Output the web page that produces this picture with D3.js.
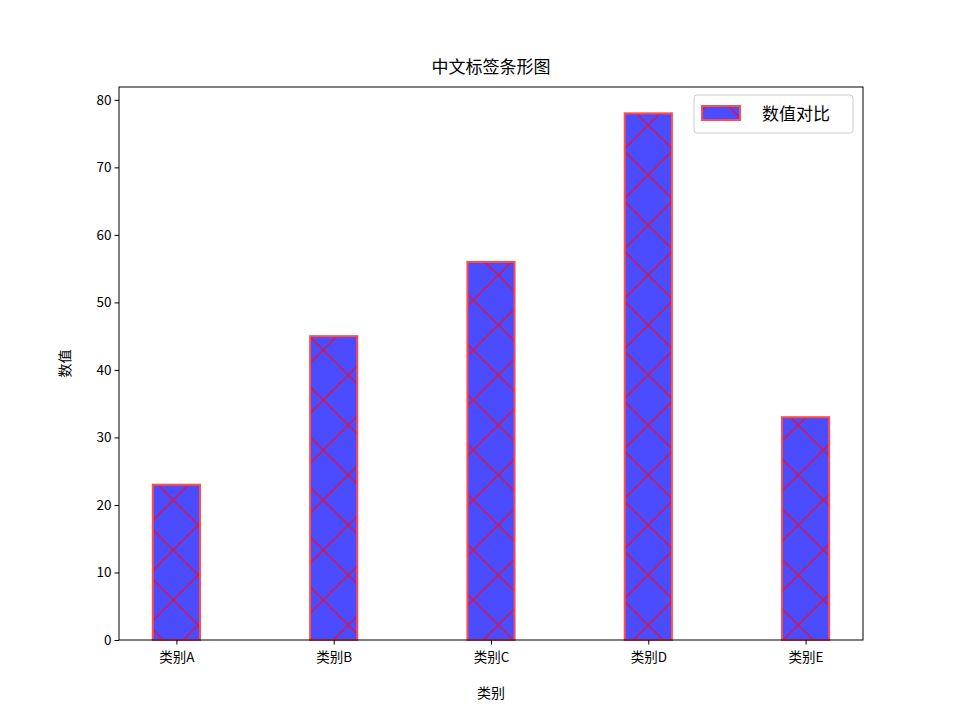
<!DOCTYPE html>
<html><head><meta charset="utf-8">
<script src="https://cdn.jsdelivr.net/npm/d3@7"></script>
<style>body{margin:0;background:#fff}text{font-family:"Noto Sans CJK SC","DejaVu Sans",sans-serif}</style>
</head><body><svg id="c" width="959" height="720"></svg>
<script>
const categories=["类别A","类别B","类别C","类别D","类别E"];
const values=[23,45,56,78,33];
const yTicks=[0,10,20,30,40,50,60,70,80];
const title="中文标签条形图", xLabel="类别", yLabel="数值", legendLabel="数值对比";

const svg=d3.select("#c");
const L=119,R=863,T=87,B=640;
const x=d3.scaleLinear().domain([-0.365,4.365]).range([L,R]);
const y=d3.scaleLinear().domain([0,81.9]).range([B,T]);
const bw=0.3;
const defs=svg.append("defs");
const p=defs.append("pattern").attr("id","h").attr("patternUnits","userSpaceOnUse")
 .attr("width",50).attr("height",50).attr("x",x(3)-25).attr("y",0);
p.append("rect").attr("width",50).attr("height",50).attr("fill","#4b4bff");
p.append("path").attr("d","M-5,-5L55,55M-5,55L55,-5").attr("stroke","#d4164c").attr("stroke-width",1.5);

svg.selectAll(".bar").data(values).join("rect")
 .attr("x",(d,i)=>x(i-bw/2)).attr("width",x(bw)-x(0))
 .attr("y",d=>y(d)).attr("height",d=>B-y(d))
 .attr("fill","url(#h)").attr("stroke","#ff4d4d").attr("stroke-width",2);

const g=svg.append("g");
const xa=g.append("g").attr("transform",`translate(0,${B})`)
 .call(d3.axisBottom(x).tickValues(d3.range(categories.length)).tickFormat(i=>categories[i]).tickSizeOuter(0).tickSize(4.5));
const ya=g.append("g").attr("transform",`translate(${L},0)`)
 .call(d3.axisLeft(y).tickValues(yTicks).tickSizeOuter(0).tickSize(4.5));
[xa,ya].forEach(a=>{a.select(".domain").remove();a.selectAll("text").attr("font-size",13.5).attr("fill","#000");a.selectAll("line").attr("stroke","#000");});
xa.selectAll("text").attr("dy","1.1em");
svg.append("rect").attr("x",L).attr("y",T).attr("width",R-L).attr("height",B-T).attr("fill","none").attr("stroke","#000").attr("stroke-width",1);

svg.append("text").attr("x",(L+R)/2).attr("y",73).attr("text-anchor","middle").attr("font-size",17).text(title);
svg.append("text").attr("x",(L+R)/2).attr("y",698).attr("text-anchor","middle").attr("font-size",14).text(xLabel);
svg.append("text").attr("transform",`translate(70,${(T+B)/2}) rotate(-90)`).attr("text-anchor","middle").attr("font-size",14).text(yLabel);

const lg=svg.append("g").attr("transform","translate(694,95)");
lg.append("rect").attr("width",159).attr("height",38).attr("rx",3).attr("fill","#fff").attr("stroke","#ccc");
lg.append("rect").attr("x",8).attr("y",11).attr("width",38).attr("height",14).attr("fill","url(#h)").attr("stroke","#ff4d4d").attr("stroke-width",2);
lg.append("text").attr("x",68).attr("y",25).attr("font-size",17).text(legendLabel);
</script></body></html>
